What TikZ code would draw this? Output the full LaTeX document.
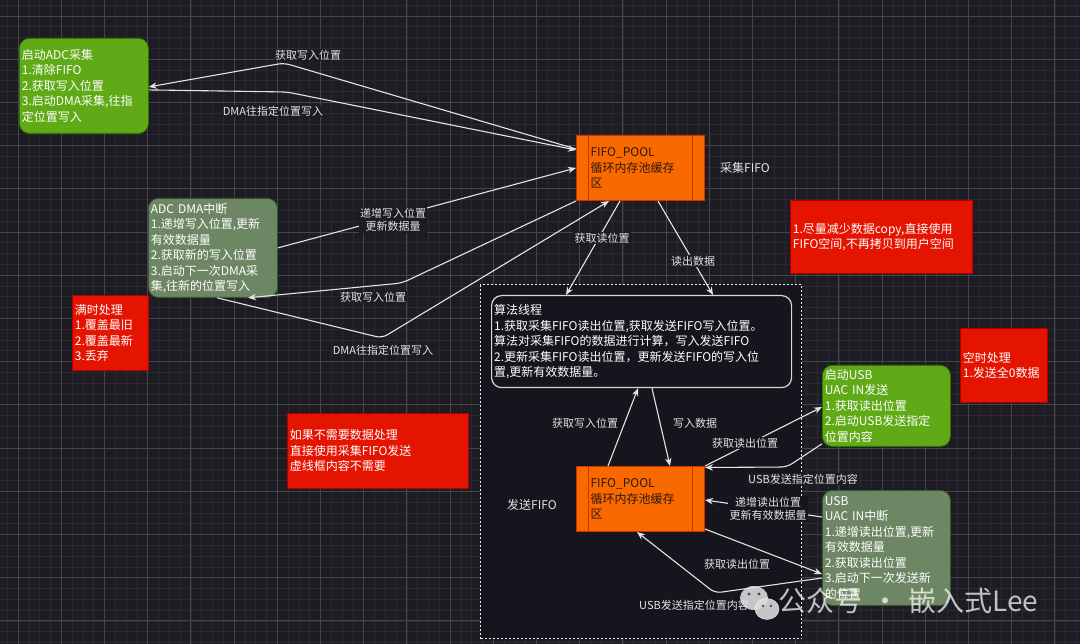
\documentclass[tikz,border=0pt]{standalone}
\usepackage{fontspec}
\setmainfont{Noto Sans CJK SC}
\usetikzlibrary{arrows.meta}
\definecolor{bg}{HTML}{1D1C23}
\definecolor{gridminor}{HTML}{2A2931}
\definecolor{gridmajor}{HTML}{46454E}
\definecolor{inbg}{HTML}{16141C}
\definecolor{cgreen}{HTML}{60A917}
\definecolor{cgreenD}{HTML}{2D7600}
\definecolor{cmgreen}{HTML}{6D8764}
\definecolor{cmgreenD}{HTML}{3A5431}
\definecolor{cred}{HTML}{E51400}
\definecolor{credD}{HTML}{B20000}
\definecolor{corange}{HTML}{FA6800}
\definecolor{corangeD}{HTML}{C73500}
\definecolor{cline}{HTML}{E4E4E4}
\definecolor{pooltext}{HTML}{2A1A10}
\begin{document}
\begin{tikzpicture}[x=1pt,y=-1pt,
  boxbase/.style={anchor=north west, inner xsep=2.5pt, inner ysep=0pt, align=left,
    text=white, font=\fontsize{12}{15.5}\selectfont, line width=0.8pt},
  gbox/.style={boxbase, fill=cgreen, draw=cgreenD, rounded corners=10pt},
  mbox/.style={boxbase, fill=cmgreen, draw=cmgreenD, rounded corners=10pt},
  rbox/.style={boxbase, fill=cred, draw=credD},
  pool/.style={anchor=north west, fill=corange, draw=corangeD, line width=1pt,
    inner xsep=14pt, inner ysep=0pt, text width=100pt, minimum height=65pt,
    align=left, text=pooltext, font=\fontsize{12}{15.5}\selectfont,
    path picture={
      \draw[corangeD, line width=1pt] ([xshift=12pt]path picture bounding box.north west) -- ([xshift=12pt]path picture bounding box.south west);
      \draw[corangeD, line width=1pt] ([xshift=-12pt]path picture bounding box.north east) -- ([xshift=-12pt]path picture bounding box.south east);}},
  conn/.style={draw=cline, line width=1.1pt, rounded corners=6pt,
    -{Stealth[length=8pt,width=6.5pt]}},
  lbl/.style={fill=bg, text=cline, font=\fontsize{11}{13}\selectfont, inner sep=1.2pt, align=center},
  lblin/.style={lbl, fill=inbg},
  plain/.style={text=cline, font=\fontsize{12}{14}\selectfont, inner sep=1pt},
]
\useasboundingbox (0,0) rectangle (1080,644);
% background and grid
\fill[bg] (0,0) rectangle (1080,644);
\foreach \i in {0,...,99} \draw[gridminor, line width=0.6pt] ({7.2+10.8*\i},0) -- ({7.2+10.8*\i},644);
\foreach \i in {0,...,59} \draw[gridminor, line width=0.6pt] (0,{5.2+10.8*\i}) -- (1080,{5.2+10.8*\i});
\foreach \i in {0,...,24} \draw[gridmajor, line width=0.9pt] ({18+43.2*\i},0) -- ({18+43.2*\i},644);
\foreach \i in {0,...,14} \draw[gridmajor, line width=0.9pt] (0,{16+43.2*\i}) -- (1080,{16+43.2*\i});

% dashed container
\node[anchor=north west, fill=inbg, draw=white!85!gray, line width=1.2pt,
  dash pattern=on 2pt off 2pt, minimum width=321pt, minimum height=354pt, inner sep=0pt]
  (cont) at (480,284) {};

% boxes
\node[gbox, text width=124pt, minimum height=95pt] (adc) at (19,38)
  {启动ADC采集\\1.清除FIFO\\2.获取写入位置\\3.启动DMA采集,往指\\定位置写入};
\node[mbox, text width=124pt, minimum height=99pt] (dma) at (148,198)
  {ADC DMA中断\\1.递增写入位置,更新\\有效数据量\\2.获取新的写入位置\\3.启动下一次DMA采\\集,往新的位置写入};
\node[rbox, text width=71pt, minimum height=75pt] (full) at (72,295)
  {满时处理\\1.覆盖最旧\\2.覆盖最新\\3.丢弃\\[4pt]};
\node[pool] (pool1) at (576,135) {FIFO\_POOL\\循环内存池缓存\\区};
\node[rbox, text width=177pt, minimum height=73pt] (note1) at (790,200)
  {1.尽量减少数据copy,直接使用\\FIFO空间,不再拷贝到用户空间};
\node[rbox, text width=82pt, minimum height=74pt] (empty) at (960,328)
  {空时处理\\1.发送全0数据};
\node[rbox, text width=176pt, minimum height=75pt] (note2) at (287,413)
  {如果不需要数据处理\\直接使用采集FIFO发送\\虚线框内容不需要};
\node[boxbase, fill=inbg, draw=white!70!gray, line width=1.2pt, rounded corners=10pt,
  text width=295pt, minimum height=92pt] (alg) at (491,295)
  {算法线程\\1.获取采集FIFO读出位置,获取发送FIFO写入位置。\\算法对采集FIFO的数据进行计算，写入发送FIFO\\2.更新采集FIFO读出位置，更新发送FIFO的写入位\\置,更新有效数据量。};
\node[pool] (pool2) at (576,466) {FIFO\_POOL\\循环内存池缓存\\区};
\node[gbox, text width=123pt, minimum height=81pt] (usbs) at (822,365)
  {启动USB\\UAC IN发送\\1.获取读出位置\\2.启动USB发送指定\\位置内容};
\node[mbox, text width=123pt, minimum height=115pt] (usbi) at (822,490)
  {USB\\UAC IN中断\\1.递增读出位置,更新\\有效数据量\\2.获取读出位置\\3.启动下一次发送新\\的位置};

% waypoints
\coordinate (w1) at (284,63);
\coordinate (w2) at (287,92);
\coordinate (w4) at (402,283);
\coordinate (w5) at (382,338);
\coordinate (w11) at (787,467);
\coordinate (w14) at (715,593);

% connectors
\draw[conn] ([yshift=-14pt]pool1.north west) -- (w1) -- ([yshift=-1pt]adc.east);
\draw[conn] ([yshift=-4pt]adc.east) -- (w2) -- ([yshift=-15pt]pool1.north west);
\draw[conn] (dma.east) -- ([yshift=-33pt]pool1.north west);
\draw[conn] (pool1.south west) -- (w4) -- ([xshift=100pt]dma.south west);
\draw[conn] ([xshift=69pt]dma.south west) -- (w5) -- ([xshift=33pt]pool1.south west);
\draw[conn] ([xshift=44pt]pool1.south west) -- ([xshift=75pt]alg.north west);
\draw[conn] ([xshift=82pt]pool1.south west) -- ([xshift=222pt]alg.north west);
\draw[conn] ([xshift=32pt]pool2.north west) -- ([xshift=147pt]alg.south west);
\draw[conn] ([xshift=161pt]alg.south west) -- ([xshift=94pt]pool2.north west);
\draw[conn] (pool2.north east) -- ([yshift=-42pt]usbs.north west);
\draw[conn] ([yshift=3pt]usbs.south west) -- (w11) -- ([yshift=-1.5pt]pool2.north east);
\draw[conn] ([yshift=-27pt]usbi.north west) -- ([yshift=-34pt]pool2.north east);
\draw[conn] ([yshift=3pt]pool2.south east) -- ([yshift=-84pt]usbi.north west);
\draw[conn] ([yshift=-88pt]usbi.north west) -- (w14) -- ([xshift=61pt]pool2.south west);

% labels
\node[lbl] (l1) at (308,55) {获取写入位置};
\node[lbl] (l2) at (273,111) {DMA往指定位置写入};
\node[lbl] (l3) at (393,220) {递增写入位置\\更新数据量};
\node[lbl] (l4) at (373,297) {获取写入位置};
\node[lbl] (l5) at (383,350) {DMA往指定位置写入};
\node[lbl] (l6) at (602,238) {获取读位置};
\node[lbl] (l7) at (693,261) {读出数据};
\node[lblin] (l8) at (585,423) {获取写入位置};
\node[lblin] (l9) at (695,423) {写入数据};
\node[lblin] (l10) at (745,443) {获取读出位置};
\node[lbl] (l11) at (803,479) {USB发送指定位置内容};
\node[lblin] (l12) at (768,509) {递增读出位置\\更新有效数据量};
\node[lblin] (l13) at (737,564) {获取读出位置};
\node[lblin] (l14) at (694,605) {USB发送指定位置内容};
\node[plain] (t1) at (745,168) {采集FIFO};
\node[plain, fill=inbg] (t2) at (532,505) {发送FIFO};

% watermark
\fill[white!80!gray, opacity=0.85] (754,598) ellipse (14pt and 12pt);
\fill[black!70] (749,594) circle (1.6pt);
\fill[black!70] (759,594) circle (1.6pt);
\fill[white!70!gray, opacity=0.9, draw=white] (767,609) ellipse (12pt and 10.5pt);
\fill[black!70] (763,606) circle (1.4pt);
\fill[black!70] (771,606) circle (1.4pt);
\node[text=white, opacity=0.72, font=\fontsize{28}{30}\selectfont, anchor=west, inner sep=0pt]
  (wm) at (778,601) {公众号\hspace{9pt}·\hspace{9pt}嵌入式Lee};
\end{tikzpicture}
\end{document}
